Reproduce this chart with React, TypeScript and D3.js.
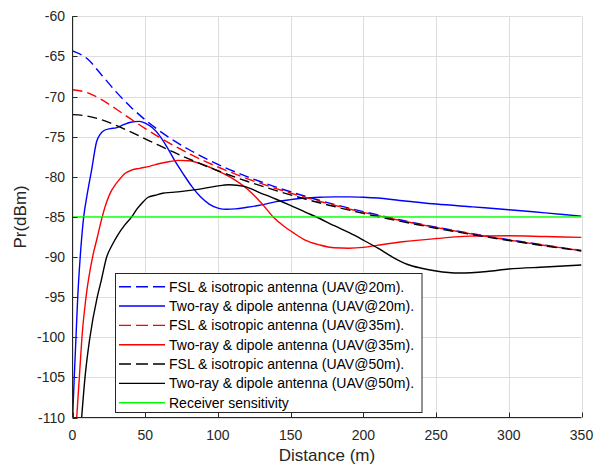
import React from 'react';
import * as d3 from 'd3';

// Free-space loss with isotropic antennas (distance grid in metres, Pr in dBm)
const distFSL = [0, 10, 20, 30, 40, 50, 60, 70, 80, 90, 100, 120, 140, 160, 180, 200, 225, 250, 275, 300, 325, 350];
const fslUav20 = [-64.3, -65.27, -67.31, -69.42, -71.29, -72.9, -74.3, -75.52, -76.6, -77.57, -78.45, -79.98, -81.29, -82.43, -83.44, -84.34, -85.36, -86.27, -87.09, -87.84, -88.53, -89.18];
const fslUav35 = [-69.16, -69.5, -70.39, -71.55, -72.79, -73.99, -75.11, -76.15, -77.1, -77.98, -78.78, -80.22, -81.47, -82.56, -83.55, -84.43, -85.43, -86.32, -87.14, -87.88, -88.57, -89.2];
const fslUav50 = [-72.26, -72.43, -72.9, -73.59, -74.41, -75.27, -76.13, -76.97, -77.77, -78.53, -79.25, -80.56, -81.72, -82.77, -83.71, -84.56, -85.53, -86.41, -87.21, -87.94, -88.62, -89.25];

// Two-ray model with dipole antennas
const distTwoRay20 = [0.1, 1.2, 2.4, 3.6, 5.3, 7.7, 10, 13, 16.6, 19, 22, 26, 30, 34, 40, 46, 50, 55, 60, 65, 70, 76, 82, 88, 94, 100, 106, 112, 120, 130, 140, 150, 160, 170, 180, 190, 200, 210, 225, 250, 275, 300, 325, 350];
const twoRayUav20 = [-110, -105, -100, -95, -90, -85, -82.3, -79.3, -75.6, -74.7, -74.2, -74.0, -73.9, -73.6, -73.2, -73.1, -73.3, -73.9, -74.9, -76.3, -77.9, -79.6, -81.2, -82.5, -83.4, -83.9, -84.05, -84.0, -83.8, -83.5, -83.1, -82.85, -82.65, -82.55, -82.5, -82.5, -82.55, -82.65, -82.95, -83.4, -83.75, -84.1, -84.5, -84.9];

const distTwoRay35 = [2.9, 4.7, 6.5, 9.3, 13.8, 17, 20, 23, 26, 29, 32, 36, 41, 46, 53, 60, 67, 73, 80, 90, 98, 110, 120, 130, 138, 145, 152, 160, 170, 180, 190, 200, 211, 227, 250, 273, 300, 325, 350];
const twoRayUav35 = [-110, -105, -100, -95, -90, -87.6, -85.3, -83.4, -82.0, -81.1, -80.4, -79.6, -79.15, -78.95, -78.7, -78.35, -78.1, -77.95, -78.0, -78.5, -79.1, -80.2, -81.5, -83.3, -85.0, -86.1, -87.0, -87.9, -88.5, -88.85, -88.9, -88.8, -88.5, -88.1, -87.7, -87.4, -87.35, -87.45, -87.55];

const distTwoRay50 = [6.3, 8.6, 12, 17, 19.8, 23.5, 27, 31, 36, 40.7, 44, 47.7, 52, 56.9, 62, 68, 74, 85, 98, 108, 118, 129, 140, 149, 160, 170, 180, 190.6, 200, 210, 220, 230, 240, 250, 266, 285, 300, 325, 350];
const twoRayUav50 = [-110, -105, -100, -95, -92.9, -90, -88.6, -87.3, -86.0, -85.0, -84.1, -83.3, -82.55, -82.3, -82.05, -81.95, -81.85, -81.6, -81.2, -81.0, -81.2, -82.0, -82.8, -83.5, -84.4, -85.2, -86.1, -87.0, -87.9, -88.9, -90.0, -90.9, -91.4, -91.75, -92.0, -91.8, -91.5, -91.25, -91.0];

// Receiver sensitivity threshold
const distSensitivity = [0, 350];
const sensitivity = [-85, -85];

const xTicks = [0, 50, 100, 150, 200, 250, 300, 350];
const yTicks = [-60, -65, -70, -75, -80, -85, -90, -95, -100, -105, -110];

const legendLabels = [
  'FSL & isotropic antenna (UAV@20m).',
  'Two-ray & dipole antenna (UAV@20m).',
  'FSL & isotropic antenna (UAV@35m).',
  'Two-ray & dipole antenna (UAV@35m).',
  'FSL & isotropic antenna (UAV@50m).',
  'Two-ray & dipole antenna (UAV@50m).',
  'Receiver sensitivity',
];

const W = 601;
const H = 466;
const FONT = '"Liberation Sans", Arial, Helvetica, sans-serif';
const AXIS_COLOR = '#262626';
const GRID_COLOR = '#dedede';
const DASH = '10,5';

type Series = { xs: number[]; ys: number[]; color: string; dashed: boolean; label: string };

const series: Series[] = [
  { xs: distFSL, ys: fslUav20, color: '#0000ff', dashed: true, label: legendLabels[0] },
  { xs: distTwoRay20, ys: twoRayUav20, color: '#0000ff', dashed: false, label: legendLabels[1] },
  { xs: distFSL, ys: fslUav35, color: '#ff0000', dashed: true, label: legendLabels[2] },
  { xs: distTwoRay35, ys: twoRayUav35, color: '#ff0000', dashed: false, label: legendLabels[3] },
  { xs: distFSL, ys: fslUav50, color: '#000000', dashed: true, label: legendLabels[4] },
  { xs: distTwoRay50, ys: twoRayUav50, color: '#000000', dashed: false, label: legendLabels[5] },
  { xs: distSensitivity, ys: sensitivity, color: '#00ff00', dashed: false, label: legendLabels[6] },
];

export default function App() {
  const x = d3.scaleLinear().domain([0, 350]).range([72.5, 581.5]);
  const y = d3.scaleLinear().domain([-110, -60]).range([417.5, 16.3]);
  const [x0, x1] = x.range();
  const [yb, yt] = y.range();

  const line = d3
    .line<[number, number]>()
    .x((d) => x(d[0]))
    .y((d) => y(d[1]))
    .curve(d3.curveMonotoneX);

  const legend = { x: 115.5, y: 273.5, w: 306.5, h: 139, row0: 286.7, rowStep: 19.33 };

  return (
    <svg
      width={W}
      height={H}
      viewBox={`0 0 ${W} ${H}`}
      style={{ position: 'absolute', left: 0, top: 0, background: '#fff' }}
      fontFamily={FONT}
    >
      <defs>
        <clipPath id="plot-area">
          <rect x={x0} y={yt} width={x1 - x0} height={yb - yt} />
        </clipPath>
      </defs>
      <rect x={0} y={0} width={W} height={H} fill="#fff" />

      {/* grid */}
      <g stroke={GRID_COLOR} strokeWidth={1}>
        {xTicks.map((t) => (
          <line key={`gx${t}`} x1={Math.round(x(t)) + 0.5} x2={Math.round(x(t)) + 0.5} y1={yt} y2={yb} />
        ))}
        {yTicks.map((t) => (
          <line key={`gy${t}`} x1={x0} x2={x1} y1={Math.round(y(t)) + 0.5} y2={Math.round(y(t)) + 0.5} />
        ))}
      </g>

      {/* data */}
      <g clipPath="url(#plot-area)" fill="none" strokeWidth={1.4}>
        {series.map((s, i) => (
          <path
            key={i}
            d={line(s.xs.map((v, k) => [v, s.ys[k]] as [number, number])) || ''}
            stroke={s.color}
            strokeDasharray={s.dashed ? DASH : undefined}
          />
        ))}
      </g>

      {/* axes */}
      <g stroke={AXIS_COLOR} strokeWidth={1} fill="none">
        <line x1={x0} x2={x0} y1={yt} y2={yb} />
        <line x1={x0} x2={x1} y1={yb} y2={yb} />
        {xTicks.map((t) => (
          <line key={`tx${t}`} x1={Math.round(x(t)) + 0.5} x2={Math.round(x(t)) + 0.5} y1={yb} y2={yb - 5} />
        ))}
        {yTicks.map((t) => (
          <line key={`ty${t}`} x1={x0} x2={x0 + 5} y1={Math.round(y(t)) + 0.5} y2={Math.round(y(t)) + 0.5} />
        ))}
      </g>

      <g fill={AXIS_COLOR} fontSize={14}>
        {xTicks.map((t) => (
          <text key={`lx${t}`} x={x(t)} y={440} textAnchor="middle">
            {t}
          </text>
        ))}
        {yTicks.map((t) => (
          <text key={`ly${t}`} x={65} y={y(t) + 5} textAnchor="end">
            {t}
          </text>
        ))}
      </g>

      <text x={(x0 + x1) / 2} y={461} textAnchor="middle" fontSize={17} fill={AXIS_COLOR}>
        Distance (m)
      </text>
      <text
        transform={`translate(26,${(yt + yb) / 2}) rotate(-90)`}
        textAnchor="middle"
        fontSize={17}
        fill={AXIS_COLOR}
      >
        Pr(dBm)
      </text>

      {/* legend */}
      <g>
        <rect x={legend.x} y={legend.y} width={legend.w} height={legend.h} fill="#fff" stroke={AXIS_COLOR} strokeWidth={1} />
        {series.map((s, i) => {
          const cy = legend.row0 + i * legend.rowStep;
          return (
            <g key={`lg${i}`}>
              <line
                x1={119}
                x2={165}
                y1={cy}
                y2={cy}
                stroke={s.color}
                strokeWidth={1.4}
                strokeDasharray={s.dashed ? '12,5' : undefined}
              />
              <text x={169} y={cy + 5} fontSize={14} fill="#000">
                {s.label}
              </text>
            </g>
          );
        })}
      </g>
    </svg>
  );
}
